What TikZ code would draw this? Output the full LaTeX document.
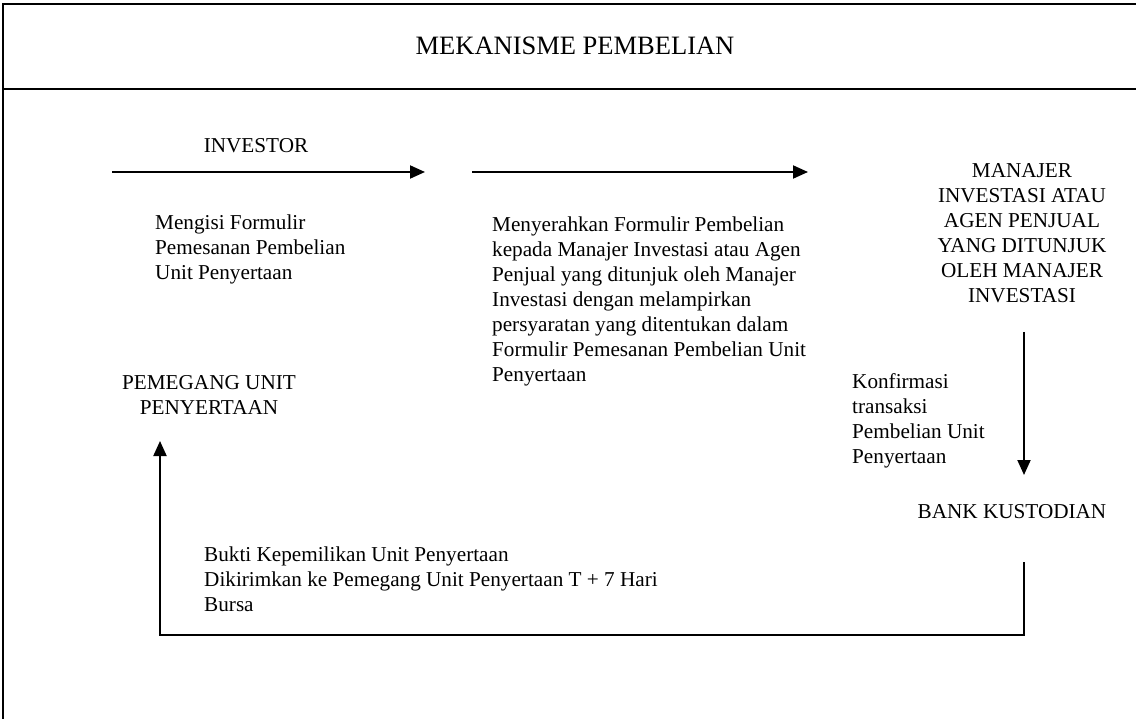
\documentclass[tikz,border=0pt]{standalone}
\usepackage{fontspec}
\setmainfont{Liberation Serif}
\usetikzlibrary{arrows.meta}
\begin{document}
\begin{tikzpicture}[x=1pt,y=-1pt,
  body/.style={font=\fontsize{21.2}{25}\selectfont, inner sep=0pt},
  leftblock/.style={body, align=left, anchor=north west},
  centerblock/.style={body, align=center},
  flow/.style={line width=2pt, -{Triangle[length=15pt,width=13pt]}},
  frame/.style={line width=2.6pt}]
\useasboundingbox (0,0) rectangle (1136,719);
\clip (0,0) rectangle (1136,719);
% frame
\draw[frame] (3,740) -- (3,4) -- (1160,4);
\draw[frame] (3,89) -- (1160,89);
\node[font=\fontsize{26.5}{30}\selectfont, inner sep=0pt] (title) at (575,46) {MEKANISME PEMBELIAN};
% nodes
\node[centerblock] (investor) at (256,146) {INVESTOR};
\node[leftblock] (mengisi) at (155,215) {Mengisi Formulir\\Pemesanan Pembelian\\Unit Penyertaan};
\node[leftblock] (menyerah) at (492,217) {Menyerahkan Formulir Pembelian\\kepada Manajer Investasi atau Agen\\Penjual yang ditunjuk oleh Manajer\\Investasi dengan melampirkan\\persyaratan yang ditentukan dalam\\Formulir Pemesanan Pembelian Unit\\Penyertaan};
\node[centerblock, anchor=north] (manajer) at (1022,163) {MANAJER\\INVESTASI ATAU\\AGEN PENJUAL\\YANG DITUNJUK\\OLEH MANAJER\\INVESTASI};
\node[leftblock] (konf) at (852,373) {Konfirmasi\\transaksi\\Pembelian Unit\\Penyertaan};
\node[centerblock] (bank) at (1012,512) {BANK KUSTODIAN};
\node[centerblock] (pemegang) at (209,395) {PEMEGANG UNIT\\PENYERTAAN};
\node[leftblock] (bukti) at (204,547) {Bukti Kepemilikan Unit Penyertaan\\Dikirimkan ke Pemegang Unit Penyertaan T + 7 Hari\\Bursa};
% connector end points
\coordinate (a1s) at (112,172);
\coordinate (a1e) at (425,172);
\coordinate (a2s) at (472,172);
\coordinate (a2e) at (808,172);
\coordinate (vs) at (1024,332);
\coordinate (ve) at (1024,475);
\coordinate (rs) at (1024,562);
\coordinate (rc) at (1024,635);
\coordinate (lc) at (160,635);
\coordinate (le) at (160,441);
% connectors
\draw[flow] (a1s) -- (a1e);
\draw[flow] (a2s) -- (a2e);
\draw[flow] (vs) -- (ve);
\draw[flow] (rs) -- (rc) -- (lc) -- (le);
\end{tikzpicture}
\end{document}
